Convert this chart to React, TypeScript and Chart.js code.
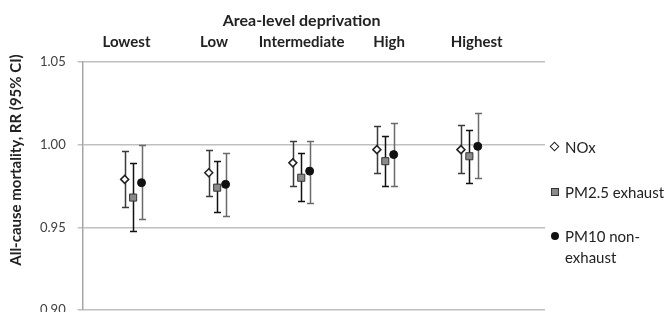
import React, { useEffect, useRef } from 'react';
import { Chart, registerables } from 'chart.js';

Chart.register(...registerables);

const categories = ['Lowest', 'Low', 'Intermediate', 'High', 'Highest'];
const seriesNames = ['NOx', 'PM2.5 exhaust', 'PM10 non-exhaust'];

const noxRR = [0.979, 0.983, 0.989, 0.997, 0.997];
const noxLo = [0.962, 0.969, 0.975, 0.983, 0.983];
const noxHi = [0.996, 0.997, 1.002, 1.011, 1.012];

const pm25RR = [0.968, 0.974, 0.980, 0.990, 0.993];
const pm25Lo = [0.948, 0.959, 0.966, 0.975, 0.977];
const pm25Hi = [0.989, 0.990, 0.995, 1.005, 1.009];

const pm10RR = [0.977, 0.976, 0.984, 0.994, 0.999];
const pm10Lo = [0.955, 0.957, 0.965, 0.975, 0.980];
const pm10Hi = [1.000, 0.995, 1.002, 1.013, 1.019];

const yTicks = [0.9, 0.95, 1.0, 1.05];
const xTitle = 'Area-level deprivation';
const yTitle = 'All-cause mortality, RR (95% CI)';

const FONT = 'Lato, "Open Sans", "DejaVu Sans", sans-serif';

const seriesStyles = [
  { pointStyle: 'rectRot', radius: 4, bg: '#ffffff', border: '#222222', bw: 1.5, whisker: '#3a3a3a' },
  { pointStyle: 'rect', radius: 5, bg: '#8a8a8a', border: '#333333', bw: 1, whisker: '#111111' },
  { pointStyle: 'circle', radius: 4, bg: '#111111', border: '#111111', bw: 1, whisker: '#6a6a6a' },
];

const errorBars = {
  id: 'errorBars',
  beforeDatasetsDraw(chart: any) {
    const { ctx } = chart;
    const x = chart.scales.x;
    const y = chart.scales.y;
    chart.data.datasets.forEach((ds: any) => {
      ctx.save();
      ctx.strokeStyle = ds.whisker;
      ctx.lineWidth = 1.5;
      ds.data.forEach((pt: any, i: number) => {
        const px = Math.round(x.getPixelForValue(pt.x)) + 0.5;
        const top = Math.round(y.getPixelForValue(ds.errHi[i])) + 0.5;
        const bot = Math.round(y.getPixelForValue(ds.errLo[i])) + 0.5;
        ctx.beginPath();
        ctx.moveTo(px, top);
        ctx.lineTo(px, bot);
        ctx.moveTo(px - 3.5, top);
        ctx.lineTo(px + 3.5, top);
        ctx.moveTo(px - 3.5, bot);
        ctx.lineTo(px + 3.5, bot);
        ctx.stroke();
      });
      ctx.restore();
    });
  },
};

const titles = {
  id: 'titles',
  afterDraw(chart: any) {
    const { ctx, chartArea } = chart;
    const x2 = chart.scales.x2;
    ctx.save();
    ctx.fillStyle = '#222222';
    ctx.textAlign = 'center';
    ctx.textBaseline = 'middle';
    const mid = (categories.length + 1) / 2;
    ctx.font = `bold 16px ${FONT}`;
    ctx.fillText(xTitle, x2.getPixelForValue(mid), chartArea.top - 41);
    ctx.font = `bold 15px ${FONT}`;
    ctx.translate(chartArea.left - 67, chartArea.top + 98);
    ctx.rotate(-Math.PI / 2);
    ctx.fillText(yTitle, 0, 0);
    ctx.restore();
  },
};

export default function App() {
  const ref = useRef<HTMLCanvasElement>(null);

  useEffect(() => {
    const canvas = ref.current;
    if (!canvas) return;
    const all = [
      { rr: noxRR, lo: noxLo, hi: noxHi },
      { rr: pm25RR, lo: pm25Lo, hi: pm25Hi },
      { rr: pm10RR, lo: pm10Lo, hi: pm10Hi },
    ];
    const datasets = all.map((s, si) => {
      const st = seriesStyles[si];
      return {
        label: seriesNames[si],
        data: s.rr.map((v, i) => ({ x: i + 1 + (si - 1) * 0.1, y: v })),
        errLo: s.lo,
        errHi: s.hi,
        whisker: st.whisker,
        showLine: false,
        pointStyle: st.pointStyle,
        pointRadius: st.radius,
        pointHoverRadius: st.radius,
        pointBackgroundColor: st.bg,
        pointBorderColor: st.border,
        pointBorderWidth: st.bw,
        xAxisID: 'x',
        yAxisID: 'y',
      };
    });

    const chart = new Chart(canvas, {
      type: 'scatter',
      data: { datasets: datasets as any },
      options: {
        animation: false,
        responsive: false,
        devicePixelRatio: 1,
        layout: { padding: { top: 14, left: 20, right: 127, bottom: 28 } },
        plugins: {
          legend: { display: false },
          tooltip: { enabled: false },
          title: { display: false },
        },
        scales: {
          x: {
            type: 'linear',
            min: 0.4,
            max: 5.9,
            display: false,
          },
          x2: {
            type: 'linear',
            position: 'top',
            min: 0.5,
            max: 5.78,
            afterBuildTicks: (axis: any) => {
              axis.ticks = categories.map((_, i) => ({ value: i + 1 }));
            },
            ticks: {
              autoSkip: false,
              maxRotation: 0,
              padding: 11,
              color: '#222222',
              font: { family: FONT, size: 15, weight: 'bold' },
              callback: (v: any) => categories[Math.round(Number(v)) - 1] ?? '',
            },
            grid: { display: false, drawTicks: false },
            border: { display: false },
          },
          y: {
            type: 'linear',
            min: 0.9,
            max: 1.05,
            afterBuildTicks: (axis: any) => {
              axis.ticks = yTicks.map((v) => ({ value: v }));
            },
            ticks: {
              padding: 12,
              color: '#404040',
              font: { family: FONT, size: 13 },
              callback: (v: any) => Number(v).toFixed(2),
            },
            grid: { color: '#c0c0c0', lineWidth: 1.5, tickLength: 5 },
            border: { color: '#a6a6a6', width: 1.5 },
          },
        } as any,
      },
      plugins: [errorBars, titles],
    });
    return () => chart.destroy();
  }, []);

  const legendTop = [139, 184, 228];

  const marker = (i: number) => {
    if (i === 0)
      return (
        <span
          style={{
            position: 'absolute', left: -4, top: -4, width: 5, height: 5,
            transform: 'rotate(45deg)', background: '#fff', border: '1.3px solid #222',
          }}
        />
      );
    if (i === 1)
      return (
        <span
          style={{
            position: 'absolute', left: -4, top: -4, width: 6, height: 6,
            background: '#8a8a8a', border: '1px solid #333',
          }}
        />
      );
    return (
      <span
        style={{
          position: 'absolute', left: -4, top: -4, width: 8, height: 8,
          borderRadius: '50%', background: '#111',
        }}
      />
    );
  };

  return (
    <div style={{ position: 'relative', width: 664, height: 304, overflow: 'hidden' }}>
      <canvas ref={ref} width={664} height={330} style={{ display: 'block' }} />
      {seriesNames.map((name, i) => (
        <div key={name} style={{ position: 'absolute', left: 547, top: legendTop[i] }}>
          {marker(i)}
          <div
            style={{
              position: 'absolute', left: 10, top: -10, width: 100,
              font: `15px ${FONT}`, lineHeight: '20.7px', color: '#222',
            }}
          >
            {name}
          </div>
        </div>
      ))}
    </div>
  );
}
